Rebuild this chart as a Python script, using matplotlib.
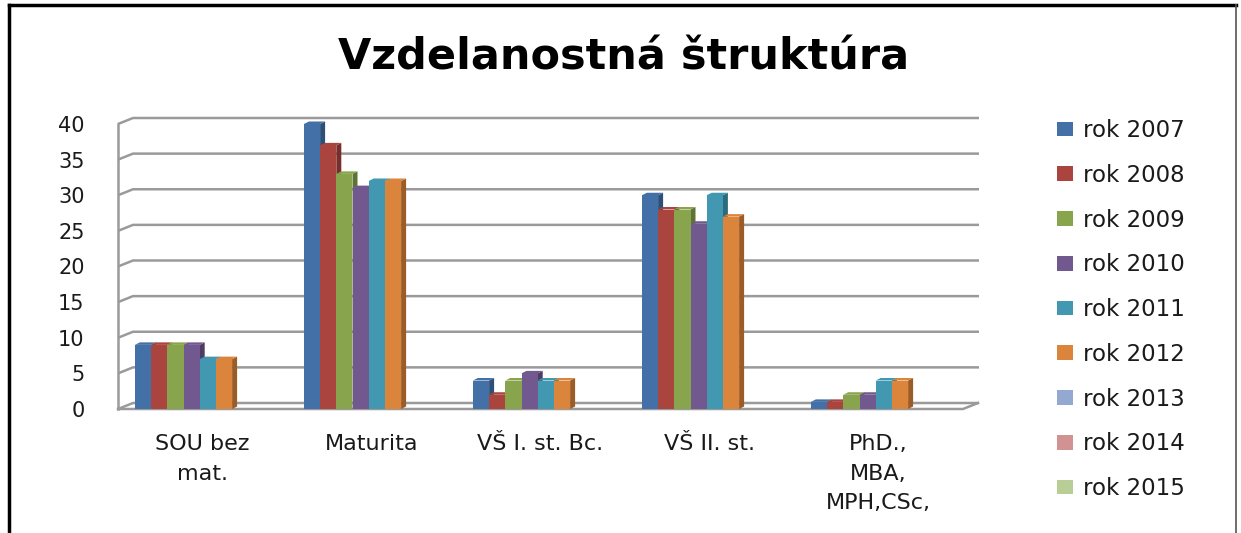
import matplotlib
matplotlib.use('Agg')
import matplotlib.pyplot as plt
from matplotlib.patches import Patch
from matplotlib.lines import Line2D

# data
categories = ['SOU bez\nmat.', 'Maturita', 'VŠ I. st. Bc.', 'VŠ II. st.', 'PhD.,\nMBA,\nMPH,CSc,']
years = ['rok 2007', 'rok 2008', 'rok 2009', 'rok 2010', 'rok 2011',
         'rok 2012', 'rok 2013', 'rok 2014', 'rok 2015']
v2007 = [9, 40, 4, 30, 1]
v2008 = [9, 37, 2, 28, 1]
v2009 = [9, 33, 4, 28, 2]
v2010 = [9, 31, 5, 26, 2]
v2011 = [7, 32, 4, 30, 4]
v2012 = [7, 32, 4, 27, 4]
v2013 = [0, 0, 0, 0, 0]
v2014 = [0, 0, 0, 0, 0]
v2015 = [0, 0, 0, 0, 0]
series = [v2007, v2008, v2009, v2010, v2011, v2012, v2013, v2014, v2015]
yticks = [0, 5, 10, 15, 20, 25, 30, 35, 40]

colors = ['#4470A8', '#A9443F', '#88A44C', '#71588F', '#4198B0',
          '#DB843C', '#93A9CF', '#D19392', '#B9CD96']
sides = ['#2E4F78', '#7A2E2B', '#5E7434', '#4E3C64', '#2C6B7C',
         '#9C5C28', '#6A7C99', '#996A69', '#889A6C']

W, H = 1241, 533
fig = plt.figure(figsize=(W / 100, H / 100), dpi=100)
fig.patch.set_facecolor('white')

# plot area (front plane)
x0, x1, yb, yt = 118, 963, 409, 124
ax = fig.add_axes([x0 / W, (H - yb) / H, (x1 - x0) / W, (yb - yt) / H])
ax.set_xlim(-0.5, 4.5)
ax.set_ylim(0, 40)
for s in ax.spines.values():
    s.set_visible(False)
ax.set_facecolor('none')

pxx = (x1 - x0) / 5.0
pxy = (yb - yt) / 40.0
# depth of the wall and of the bars, in data units
gdx, gdy = 15 / pxx, 6 / pxy
bdx, bdy = 5 / pxx, 2.5 / pxy

grid_c = '#9A9A9A'
xl, xr = -0.5, 4.5
for v in yticks:
    ax.plot([xl, xl + gdx, xr + gdx + 1 / pxx], [v, v + gdy, v + gdy],
            color=grid_c, lw=1.8, clip_on=False, zorder=1, solid_capstyle='butt')
# left edge and floor
ax.plot([xl, xl], [0, 40], color=grid_c, lw=1.8, clip_on=False, zorder=1)
ax.plot([xl, xr, xr + gdx], [0, 0, gdy], color=grid_c, lw=1.8, clip_on=False, zorder=1)

# bars with a small 3d side and top
bw = 16.2 / pxx
for i, vals in enumerate(series):
    lefts = [c - 0.4 + i * bw for c in range(len(categories))]
    for left, v in zip(lefts, vals):
        if v <= 0:
            continue
        r = left + bw
        z = 3 + i
        ax.fill([r, r + bdx, r + bdx, r], [0, bdy, v + bdy, v],
                color=sides[i], lw=0, zorder=z, clip_on=False)
        ax.fill([left, left + bdx, r + bdx, r], [v, v + bdy, v + bdy, v],
                color=colors[i], lw=0, zorder=z, clip_on=False)
    ax.bar(lefts, [v if v > 0 else 0 for v in vals], width=bw, align='edge',
           color=colors[i], lw=0, zorder=3 + i)

fnt = 'DejaVu Sans'
ax.set_yticks(yticks)
ax.set_yticklabels([str(t) for t in yticks], fontsize=15, family=fnt, color='#1a1a1a')
ax.set_xticks(range(len(categories)))
ax.set_xticklabels(categories, fontsize=16, family=fnt, color='#1a1a1a', linespacing=1.6)
ax.tick_params(axis='y', length=0, pad=24)
ax.tick_params(axis='x', length=0, pad=18)

fig.text(624 / W, 1 - 58 / H, 'Vzdelanostná štruktúra', ha='center', va='center',
         fontsize=31, fontweight='bold', family=fnt)

handles = [Patch(facecolor=c, edgecolor='none') for c in colors]
fig.legend(handles, years, loc='upper left',
           bbox_to_anchor=(1057 / W, 1 - 119 / H), frameon=False,
           prop={'family': fnt, 'size': 16.5}, handlelength=0.7, handleheight=0.6,
           handletextpad=0.45, labelspacing=0.95, borderpad=0, borderaxespad=0,
           labelcolor='#1a1a1a')

# frame around the chart
fig.add_artist(Line2D([9 / W, 9 / W], [0, 1 - 5 / H], color='black', lw=2.5))
fig.add_artist(Line2D([9 / W, 1236 / W], [1 - 5 / H, 1 - 5 / H], color='black', lw=2.5))
fig.add_artist(Line2D([1236 / W, 1236 / W], [0, 1 - 5 / H], color='#555555', lw=1.2))

plt.savefig('out.png', dpi=100)
